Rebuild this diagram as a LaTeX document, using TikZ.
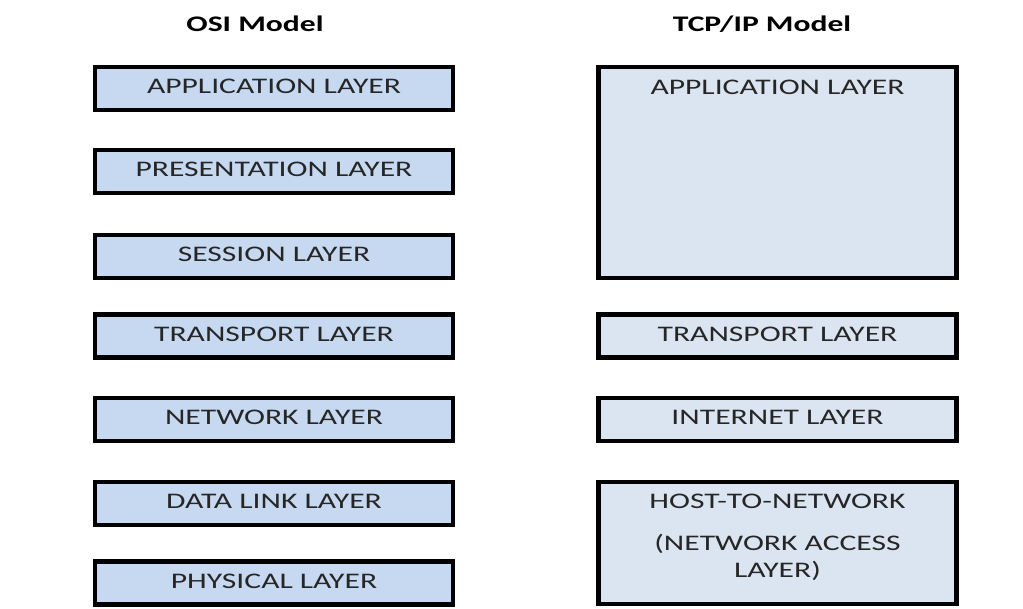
\documentclass[tikz,border=0pt]{standalone}
\usepackage{fontspec}
\setmainfont{Carlito}
\newfontfamily\layerfont{Carlito}[FakeStretch=1.42]
\usetikzlibrary{positioning}

\definecolor{osifill}{HTML}{C6D9F1}
\definecolor{tcpfill}{HTML}{DBE5F1}

\begin{document}
\begin{tikzpicture}[x=0.03cm, y=-0.03cm,
    layer/.style={draw=black, line width=3.5pt, minimum width=10.74cm, minimum height=1.29cm,
      inner sep=0pt, text height=12.2pt, text depth=3.5pt, text=black!85,
      font=\layerfont\fontsize{19}{23}\selectfont},
    osi/.style={layer, fill=osifill},
    tcp/.style={layer, fill=tcpfill},
    caption/.style={font=\layerfont\fontsize{19}{23}\selectfont, text=black!85},
    title/.style={font=\layerfont\bfseries\fontsize{19}{23}\selectfont}]

    \useasboundingbox (0,0) rectangle (1023,609);

    % column titles
    \node[title] (osit) at (255,24) {OSI Model};
    \node[title] (tcpt) at (762,24) {TCP/IP Model};

    % OSI layers
    \node[osi] (app)  at (274,88.5)  {APPLICATION LAYER};
    \node[osi] (pres) at (274,171.5) {PRESENTATION LAYER};
    \node[osi] (sess) at (274,256.5) {SESSION LAYER};
    \node[osi] (trans) at (274,336)  {TRANSPORT LAYER};
    \node[osi] (net)  at (274,419.5) {NETWORK LAYER};
    \node[osi] (dll)  at (274,503.5) {DATA LINK LAYER};
    \node[osi] (phy)  at (274,583)   {PHYSICAL LAYER};

    % TCP/IP layers
    \node[tcp, minimum height=6.33cm] (tapp) at (777.5,172.5) {};
    \node[caption] (tappt) at (777.5,87) {APPLICATION LAYER};
    \node[tcp] (ttrans) at (777.5,336)   {TRANSPORT LAYER};
    \node[tcp] (tnet)   at (777.5,419.5) {INTERNET LAYER};
    \node[tcp, minimum height=3.66cm] (thost) at (777.5,543) {};
    \node[caption] (thostt) at (777.5,501) {HOST-TO-NETWORK};
    \node[caption, align=center] (thostb) at (777.5,557)
      {(NETWORK ACCESS\\LAYER)};
\end{tikzpicture}
\end{document}
